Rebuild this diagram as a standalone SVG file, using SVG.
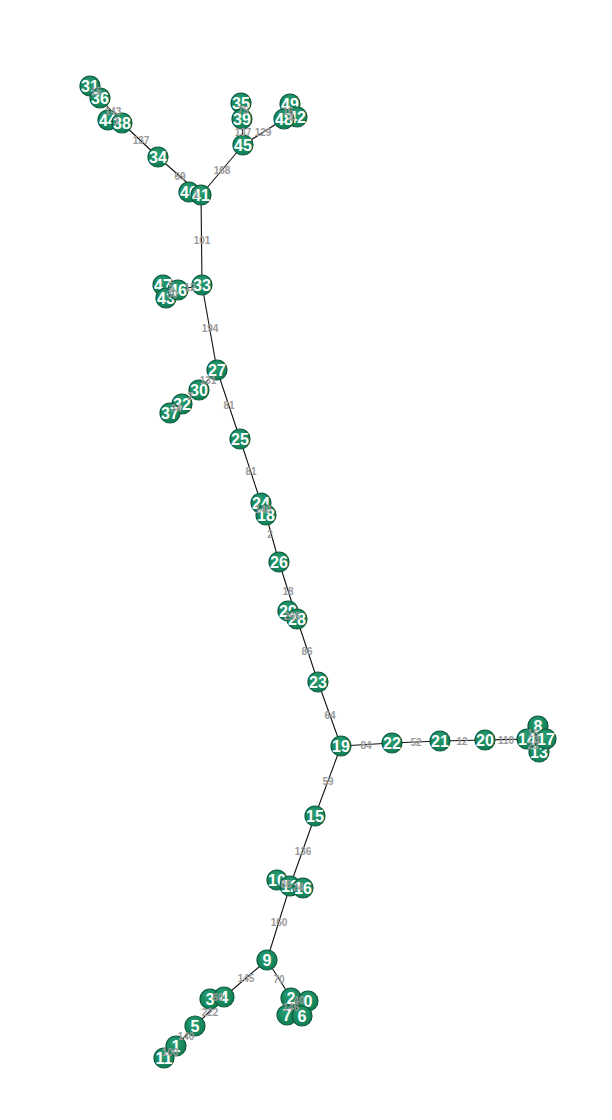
<svg xmlns="http://www.w3.org/2000/svg" width="612" height="1120" viewBox="0 0 612 1120">
<style>
.e{stroke:#111;stroke-width:1.1;fill:none}
.n circle{fill:url(#g);stroke:#0b5a3c;stroke-width:1.2}
.n text{fill:#fff;font-family:"Liberation Sans",Arial,sans-serif;font-weight:bold;font-size:16px;text-anchor:middle;dominant-baseline:central}
.l{fill:#9a9a9a;font-family:"Liberation Sans",Arial,sans-serif;font-weight:bold;font-size:10px;text-anchor:middle;dominant-baseline:central}
</style>
<defs>
<radialGradient id="g" cx="0.45" cy="0.35" r="0.7">
<stop offset="0" stop-color="#2a9f74"/>
<stop offset="1" stop-color="#0c7a50"/>
</radialGradient>
</defs>
<rect width="612" height="1120" fill="#fff"/>
<g id="edges">
<line class="e" x1="90" y1="86" x2="100" y2="98"/>
<line class="e" x1="100" y1="98" x2="122" y2="123"/>
<line class="e" x1="122" y1="123" x2="108" y2="120"/>
<line class="e" x1="122" y1="123" x2="158" y2="157"/>
<line class="e" x1="158" y1="157" x2="201" y2="195"/>
<line class="e" x1="189" y1="192" x2="201" y2="195"/>
<line class="e" x1="201" y1="195" x2="243" y2="145"/>
<line class="e" x1="243" y1="145" x2="242" y2="119"/>
<line class="e" x1="242" y1="119" x2="241" y2="103"/>
<line class="e" x1="243" y1="145" x2="284" y2="119"/>
<line class="e" x1="284" y1="119" x2="290" y2="104"/>
<line class="e" x1="284" y1="119" x2="297" y2="117"/>
<line class="e" x1="201" y1="195" x2="202" y2="285"/>
<line class="e" x1="202" y1="285" x2="178" y2="290"/>
<line class="e" x1="178" y1="290" x2="163" y2="285"/>
<line class="e" x1="178" y1="290" x2="166" y2="298"/>
<line class="e" x1="202" y1="285" x2="217" y2="370"/>
<line class="e" x1="217" y1="370" x2="199" y2="390"/>
<line class="e" x1="199" y1="390" x2="182" y2="404"/>
<line class="e" x1="182" y1="404" x2="170" y2="413"/>
<line class="e" x1="217" y1="370" x2="240" y2="439"/>
<line class="e" x1="240" y1="439" x2="261" y2="503"/>
<line class="e" x1="261" y1="503" x2="266" y2="515"/>
<line class="e" x1="266" y1="515" x2="279" y2="562"/>
<line class="e" x1="279" y1="562" x2="297" y2="619"/>
<line class="e" x1="297" y1="619" x2="288" y2="611"/>
<line class="e" x1="297" y1="619" x2="318" y2="682"/>
<line class="e" x1="318" y1="682" x2="341" y2="746"/>
<line class="e" x1="341" y1="746" x2="392" y2="743"/>
<line class="e" x1="392" y1="743" x2="440" y2="741"/>
<line class="e" x1="440" y1="741" x2="485" y2="740"/>
<line class="e" x1="485" y1="740" x2="527" y2="739"/>
<line class="e" x1="527" y1="739" x2="538" y2="726"/>
<line class="e" x1="527" y1="739" x2="546" y2="739"/>
<line class="e" x1="527" y1="739" x2="539" y2="752"/>
<line class="e" x1="341" y1="746" x2="315" y2="816"/>
<line class="e" x1="315" y1="816" x2="290" y2="886"/>
<line class="e" x1="290" y1="886" x2="277" y2="880"/>
<line class="e" x1="290" y1="886" x2="303" y2="888"/>
<line class="e" x1="290" y1="886" x2="267" y2="960"/>
<line class="e" x1="267" y1="960" x2="224" y2="997"/>
<line class="e" x1="224" y1="997" x2="210" y2="999"/>
<line class="e" x1="224" y1="997" x2="195" y2="1026"/>
<line class="e" x1="195" y1="1026" x2="176" y2="1046"/>
<line class="e" x1="176" y1="1046" x2="164" y2="1058"/>
<line class="e" x1="267" y1="960" x2="291" y2="998"/>
<line class="e" x1="291" y1="998" x2="308" y2="1001"/>
<line class="e" x1="291" y1="998" x2="287" y2="1015"/>
<line class="e" x1="291" y1="998" x2="302" y2="1016"/>
</g>
<g id="nodes">
<g id="n31" class="n"><circle cx="90" cy="86" r="10"/><text x="90" y="86">31</text></g>
<g id="n36" class="n"><circle cx="100" cy="98" r="10"/><text x="100" y="98">36</text></g>
<g id="n44" class="n"><circle cx="108" cy="120" r="10"/><text x="108" y="120">44</text></g>
<g id="n38" class="n"><circle cx="122" cy="123" r="10"/><text x="122" y="123">38</text></g>
<g id="n34" class="n"><circle cx="158" cy="157" r="10"/><text x="158" y="157">34</text></g>
<g id="n40" class="n"><circle cx="189" cy="192" r="10"/><text x="189" y="192">40</text></g>
<g id="n41" class="n"><circle cx="201" cy="195" r="10"/><text x="201" y="195">41</text></g>
<g id="n35" class="n"><circle cx="241" cy="103" r="10"/><text x="241" y="103">35</text></g>
<g id="n39" class="n"><circle cx="242" cy="119" r="10"/><text x="242" y="119">39</text></g>
<g id="n45" class="n"><circle cx="243" cy="145" r="10"/><text x="243" y="145">45</text></g>
<g id="n49" class="n"><circle cx="290" cy="104" r="10"/><text x="290" y="104">49</text></g>
<g id="n42" class="n"><circle cx="297" cy="117" r="10"/><text x="297" y="117">42</text></g>
<g id="n48" class="n"><circle cx="284" cy="119" r="10"/><text x="284" y="119">48</text></g>
<g id="n47" class="n"><circle cx="163" cy="285" r="10"/><text x="163" y="285">47</text></g>
<g id="n43" class="n"><circle cx="166" cy="298" r="10"/><text x="166" y="298">43</text></g>
<g id="n46" class="n"><circle cx="178" cy="290" r="10"/><text x="178" y="290">46</text></g>
<g id="n33" class="n"><circle cx="202" cy="285" r="10"/><text x="202" y="285">33</text></g>
<g id="n27" class="n"><circle cx="217" cy="370" r="10"/><text x="217" y="370">27</text></g>
<g id="n30" class="n"><circle cx="199" cy="390" r="10"/><text x="199" y="390">30</text></g>
<g id="n32" class="n"><circle cx="182" cy="404" r="10"/><text x="182" y="404">32</text></g>
<g id="n37" class="n"><circle cx="170" cy="413" r="10"/><text x="170" y="413">37</text></g>
<g id="n25" class="n"><circle cx="240" cy="439" r="10"/><text x="240" y="439">25</text></g>
<g id="n24" class="n"><circle cx="261" cy="503" r="10"/><text x="261" y="503">24</text></g>
<g id="n18" class="n"><circle cx="266" cy="515" r="10"/><text x="266" y="515">18</text></g>
<g id="n26" class="n"><circle cx="279" cy="562" r="10"/><text x="279" y="562">26</text></g>
<g id="n29" class="n"><circle cx="288" cy="611" r="10"/><text x="288" y="611">29</text></g>
<g id="n28" class="n"><circle cx="297" cy="619" r="10"/><text x="297" y="619">28</text></g>
<g id="n23" class="n"><circle cx="318" cy="682" r="10"/><text x="318" y="682">23</text></g>
<g id="n19" class="n"><circle cx="341" cy="746" r="10"/><text x="341" y="746">19</text></g>
<g id="n22" class="n"><circle cx="392" cy="743" r="10"/><text x="392" y="743">22</text></g>
<g id="n21" class="n"><circle cx="440" cy="741" r="10"/><text x="440" y="741">21</text></g>
<g id="n20" class="n"><circle cx="485" cy="740" r="10"/><text x="485" y="740">20</text></g>
<g id="n8" class="n"><circle cx="538" cy="726" r="10"/><text x="538" y="726">8</text></g>
<g id="n13" class="n"><circle cx="539" cy="752" r="10"/><text x="539" y="752">13</text></g>
<g id="n17" class="n"><circle cx="546" cy="739" r="10"/><text x="546" y="739">17</text></g>
<g id="n14" class="n"><circle cx="527" cy="739" r="10"/><text x="527" y="739">14</text></g>
<g id="n15" class="n"><circle cx="315" cy="816" r="10"/><text x="315" y="816">15</text></g>
<g id="n10" class="n"><circle cx="277" cy="880" r="10"/><text x="277" y="880">10</text></g>
<g id="n12" class="n"><circle cx="290" cy="886" r="10"/><text x="290" y="886">12</text></g>
<g id="n16" class="n"><circle cx="303" cy="888" r="10"/><text x="303" y="888">16</text></g>
<g id="n9" class="n"><circle cx="267" cy="960" r="10"/><text x="267" y="960">9</text></g>
<g id="n3" class="n"><circle cx="210" cy="999" r="10"/><text x="210" y="999">3</text></g>
<g id="n4" class="n"><circle cx="224" cy="997" r="10"/><text x="224" y="997">4</text></g>
<g id="n5" class="n"><circle cx="195" cy="1026" r="10"/><text x="195" y="1026">5</text></g>
<g id="n11" class="n"><circle cx="164" cy="1058" r="10"/><text x="164" y="1058">11</text></g>
<g id="n1" class="n"><circle cx="176" cy="1046" r="10"/><text x="176" y="1046">1</text></g>
<g id="n2" class="n"><circle cx="291" cy="998" r="10"/><text x="291" y="998">2</text></g>
<g id="n0" class="n"><circle cx="308" cy="1001" r="10"/><text x="308" y="1001">0</text></g>
<g id="n7" class="n"><circle cx="287" cy="1015" r="10"/><text x="287" y="1015">7</text></g>
<g id="n6" class="n"><circle cx="302" cy="1016" r="10"/><text x="302" y="1016">6</text></g>
</g>
<g id="labels">
<text class="l" x="96" y="91">15</text>
<text class="l" x="113" y="111">143</text>
<text class="l" x="116" y="121">3</text>
<text class="l" x="141" y="140">137</text>
<text class="l" x="180" y="176">69</text>
<text class="l" x="196" y="194">1</text>
<text class="l" x="222" y="170">168</text>
<text class="l" x="243" y="132">137</text>
<text class="l" x="243" y="110">75</text>
<text class="l" x="263" y="132">129</text>
<text class="l" x="288" y="111">16</text>
<text class="l" x="291" y="118">4</text>
<text class="l" x="202" y="240">101</text>
<text class="l" x="190" y="287">12</text>
<text class="l" x="171" y="286">5</text>
<text class="l" x="172" y="294">30</text>
<text class="l" x="210" y="328">194</text>
<text class="l" x="208" y="380">131</text>
<text class="l" x="190" y="396">2</text>
<text class="l" x="176" y="408">34</text>
<text class="l" x="229" y="405">81</text>
<text class="l" x="251" y="471">81</text>
<text class="l" x="263" y="509">140</text>
<text class="l" x="270" y="534">2</text>
<text class="l" x="288" y="591">18</text>
<text class="l" x="292" y="616">295</text>
<text class="l" x="307" y="651">86</text>
<text class="l" x="330" y="715">64</text>
<text class="l" x="366" y="745">84</text>
<text class="l" x="416" y="742">52</text>
<text class="l" x="462" y="741">12</text>
<text class="l" x="506" y="740">110</text>
<text class="l" x="533" y="733">16</text>
<text class="l" x="537" y="740">4</text>
<text class="l" x="533" y="745">20</text>
<text class="l" x="328" y="781">59</text>
<text class="l" x="303" y="851">136</text>
<text class="l" x="286" y="884">86</text>
<text class="l" x="298" y="887">24</text>
<text class="l" x="279" y="922">160</text>
<text class="l" x="246" y="978">145</text>
<text class="l" x="218" y="997">60</text>
<text class="l" x="210" y="1012">222</text>
<text class="l" x="186" y="1036">140</text>
<text class="l" x="170" y="1052">100</text>
<text class="l" x="279" y="979">70</text>
<text class="l" x="299" y="1000">40</text>
<text class="l" x="291" y="1007">146</text>
</g>
</svg>
